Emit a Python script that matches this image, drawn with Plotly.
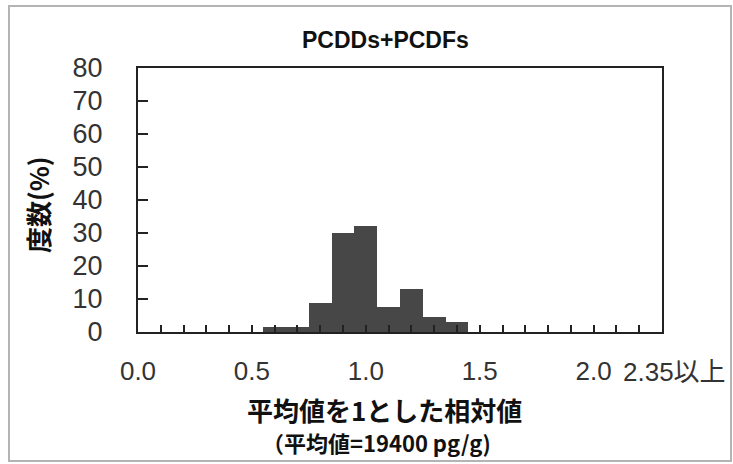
import plotly.graph_objects as go

# Histogram of relative values (mean = 1), bins of 0.1
bin_centers = [round(0.1 * k, 1) for k in range(24)]
frequency_pct = [0, 0, 0, 0, 0, 0, 1.5, 1.5, 8.7, 29.9, 32.1, 7.5,
                 12.9, 4.4, 3.1, 0, 0, 0, 0, 0, 0, 0, 0, 0]
x_labels = {0.0: "0.0", 0.5: "0.5", 1.0: "1.0", 1.5: "1.5", 2.0: "2.0"}
last_label = "2.35以上"
y_ticks = [0, 10, 20, 30, 40, 50, 60, 70, 80]

title_text = "PCDDs+PCDFs"
y_title = "度数(%)"
x_title_1 = "平均値を1とした相対値"
x_title_2 = "（平均値=19400 pg/g)"

W, H = 733, 464
L, R, T, B = 138, 71, 68, 132
pw, ph = W - L - R, H - T - B


def px(x):
    return (x - L) / pw


def py(y):
    return (H - B - y) / ph


LAT = "Liberation Sans, Noto Sans CJK JP, sans-serif"
CJK = "Noto Sans CJK JP, sans-serif"

fig = go.Figure(go.Bar(
    x=bin_centers, y=frequency_pct, width=0.1,
    marker=dict(color="#474747", line=dict(width=0)),
))

fig.update_layout(
    width=W, height=H,
    margin=dict(l=L, r=R, t=T, b=B),
    paper_bgcolor="white", plot_bgcolor="white",
    showlegend=False, bargap=0,
    font=dict(family=LAT, color="#222"),
)

fig.update_xaxes(
    range=[0, 2.3], tickmode="array", tickvals=bin_centers,
    ticktext=[x_labels.get(v, "") for v in bin_centers],
    ticks="inside", ticklen=7, tickwidth=2, tickcolor="#222",
    showline=True, linecolor="#222", linewidth=2, mirror=True,
    showgrid=False, zeroline=False,
    tickfont=dict(size=26, family=LAT, color="#333"),
    ticklabelstandoff=15,
)
fig.update_yaxes(
    range=[0, 80], tickmode="array", tickvals=y_ticks,
    ticks="inside", ticklen=10, tickwidth=2, tickcolor="#222",
    showline=True, linecolor="#222", linewidth=2, mirror=True,
    showgrid=False, zeroline=False,
    tickfont=dict(size=27, family=LAT, color="#333"),
    ticklabelstandoff=28,
)

annotations = [
    dict(text=f"<b>{title_text}</b>", x=px(385), y=py(40),
         font=dict(size=23, family=LAT, color="#111")),
    dict(text=last_label, x=px(674), y=py(372),
         font=dict(size=26, family=LAT, color="#333")),
    dict(text=f"<b>{y_title}</b>", x=px(37), y=py(205), textangle=-90,
         font=dict(size=26, family=CJK, color="#111")),
    dict(text=f"<b>{x_title_1}</b>", x=px(384), y=py(409),
         font=dict(size=26, family=CJK, color="#111")),
    dict(text=f"<b>{x_title_2}</b>", x=px(376), y=py(442),
         font=dict(size=22, family=CJK, color="#111")),
]
for a in annotations:
    fig.add_annotation(xref="paper", yref="paper", showarrow=False,
                       xanchor="center", yanchor="middle", **a)

# Light grey frame around the whole chart area
fig.add_shape(type="rect", xref="paper", yref="paper",
              x0=px(9), x1=px(731), y0=py(461), y1=py(6),
              line=dict(color="#b4b4b4", width=2), layer="below")

fig.write_html("out.html")
